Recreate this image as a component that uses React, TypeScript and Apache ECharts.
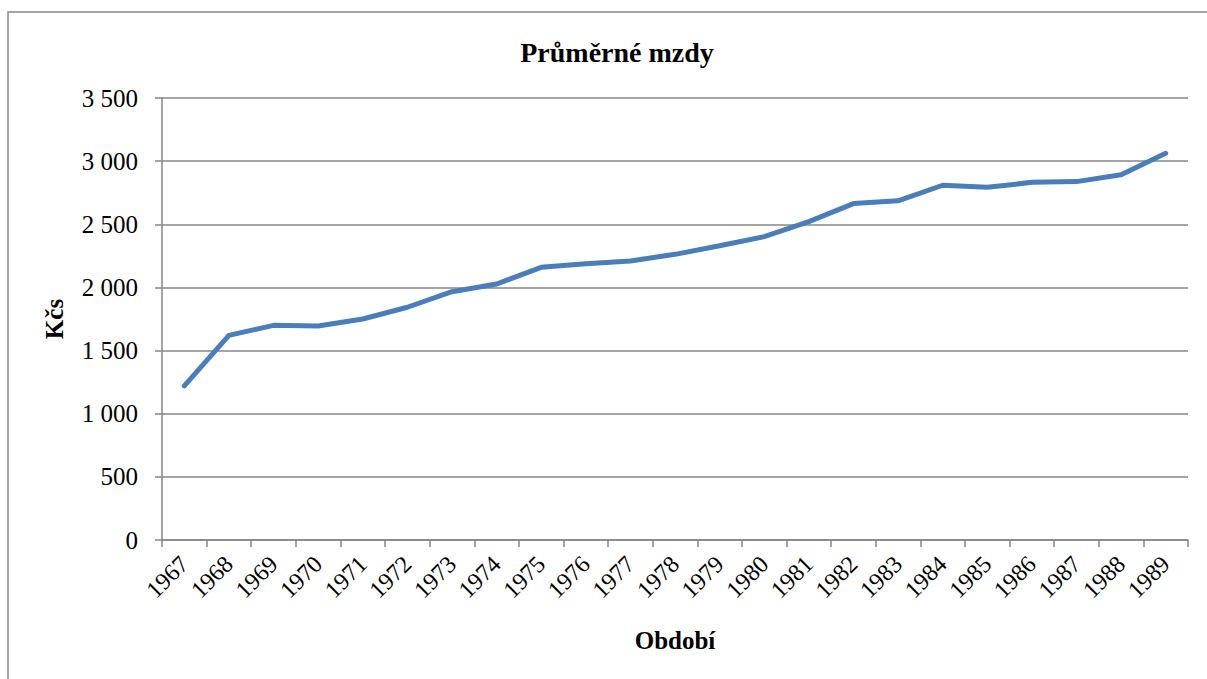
import React, { useEffect, useRef } from "react";
import * as echarts from "echarts";

const years = ["1967","1968","1969","1970","1971","1972","1973","1974","1975","1976","1977","1978","1979","1980","1981","1982","1983","1984","1985","1986","1987","1988","1989"];
const wages = [1220,1620,1700,1695,1750,1843,1966,2027,2159,2188,2210,2262,2330,2402,2521,2664,2686,2809,2793,2832,2838,2892,3062];
const yTicks = { min: 0, max: 3500, interval: 500 };
const titleText = "Průměrné mzdy";
const xName = "Období";
const yName = "Kčs";

const FONT = "'Liberation Serif', 'Times New Roman', serif";
const GRAY = "#868686";

export default function App() {
  const ref = useRef<HTMLDivElement>(null);
  useEffect(() => {
    if (!ref.current) return;
    const chart = echarts.init(ref.current, undefined, { renderer: "svg" });
    chart.setOption({
      animation: false,
      backgroundColor: "#ffffff",
      textStyle: { fontFamily: FONT },
      title: {
        text: titleText,
        left: 612,
        textAlign: "center",
        top: 33,
        textStyle: { fontFamily: FONT, fontSize: 28, fontWeight: "bold", color: "#000" },
      },
      graphic: [
        {
          type: "rect",
          z: -10,
          shape: { x: 8, y: 12, width: 1300, height: 700 },
          style: { fill: "none", stroke: GRAY, lineWidth: 1.5 },
        },
      ],
      grid: { left: 162, right: 19, top: 98, bottom: 139, containLabel: false },
      xAxis: {
        type: "category",
        data: years,
        boundaryGap: true,
        name: xName,
        nameLocation: "middle",
        nameGap: 88,
        nameTextStyle: { fontFamily: FONT, fontSize: 25, fontWeight: "bold", color: "#000", verticalAlign: "top" },
        axisLine: { show: true, lineStyle: { color: GRAY, width: 1.5 } },
        axisTick: { show: true, length: 7, lineStyle: { color: GRAY, width: 1.5 } },
        axisLabel: { rotate: 45, interval: 0, margin: 20, fontFamily: FONT, fontSize: 24, color: "#000" },
        splitLine: { show: false },
      },
      yAxis: {
        type: "value",
        min: yTicks.min,
        max: yTicks.max,
        interval: yTicks.interval,
        name: yName,
        nameLocation: "middle",
        nameRotate: 90,
        nameGap: 95,
        nameTextStyle: { fontFamily: FONT, fontSize: 25, fontWeight: "bold", color: "#000" },
        axisLine: { show: true, lineStyle: { color: GRAY, width: 1.5 } },
        axisTick: { show: true, length: 7, lineStyle: { color: GRAY, width: 1.5 } },
        axisLabel: {
          margin: 24,
          fontFamily: FONT,
          fontSize: 25,
          color: "#000",
          formatter: (v: number) => String(v).replace(/\B(?=(\d{3})+(?!\d))/g, " "),
        },
        splitLine: { show: true, lineStyle: { color: GRAY, width: 1.5 } },
      },
      series: [
        {
          type: "line",
          data: wages,
          showSymbol: false,
          symbol: "none",
          lineStyle: { color: "#4a7ebb", width: 5, cap: "round", join: "round" },
        },
      ],
    });
    return () => chart.dispose();
  }, []);
  return (
    <div
      ref={ref}
      style={{ position: "absolute", left: 0, top: 0, width: 1207, height: 679 }}
    />
  );
}
